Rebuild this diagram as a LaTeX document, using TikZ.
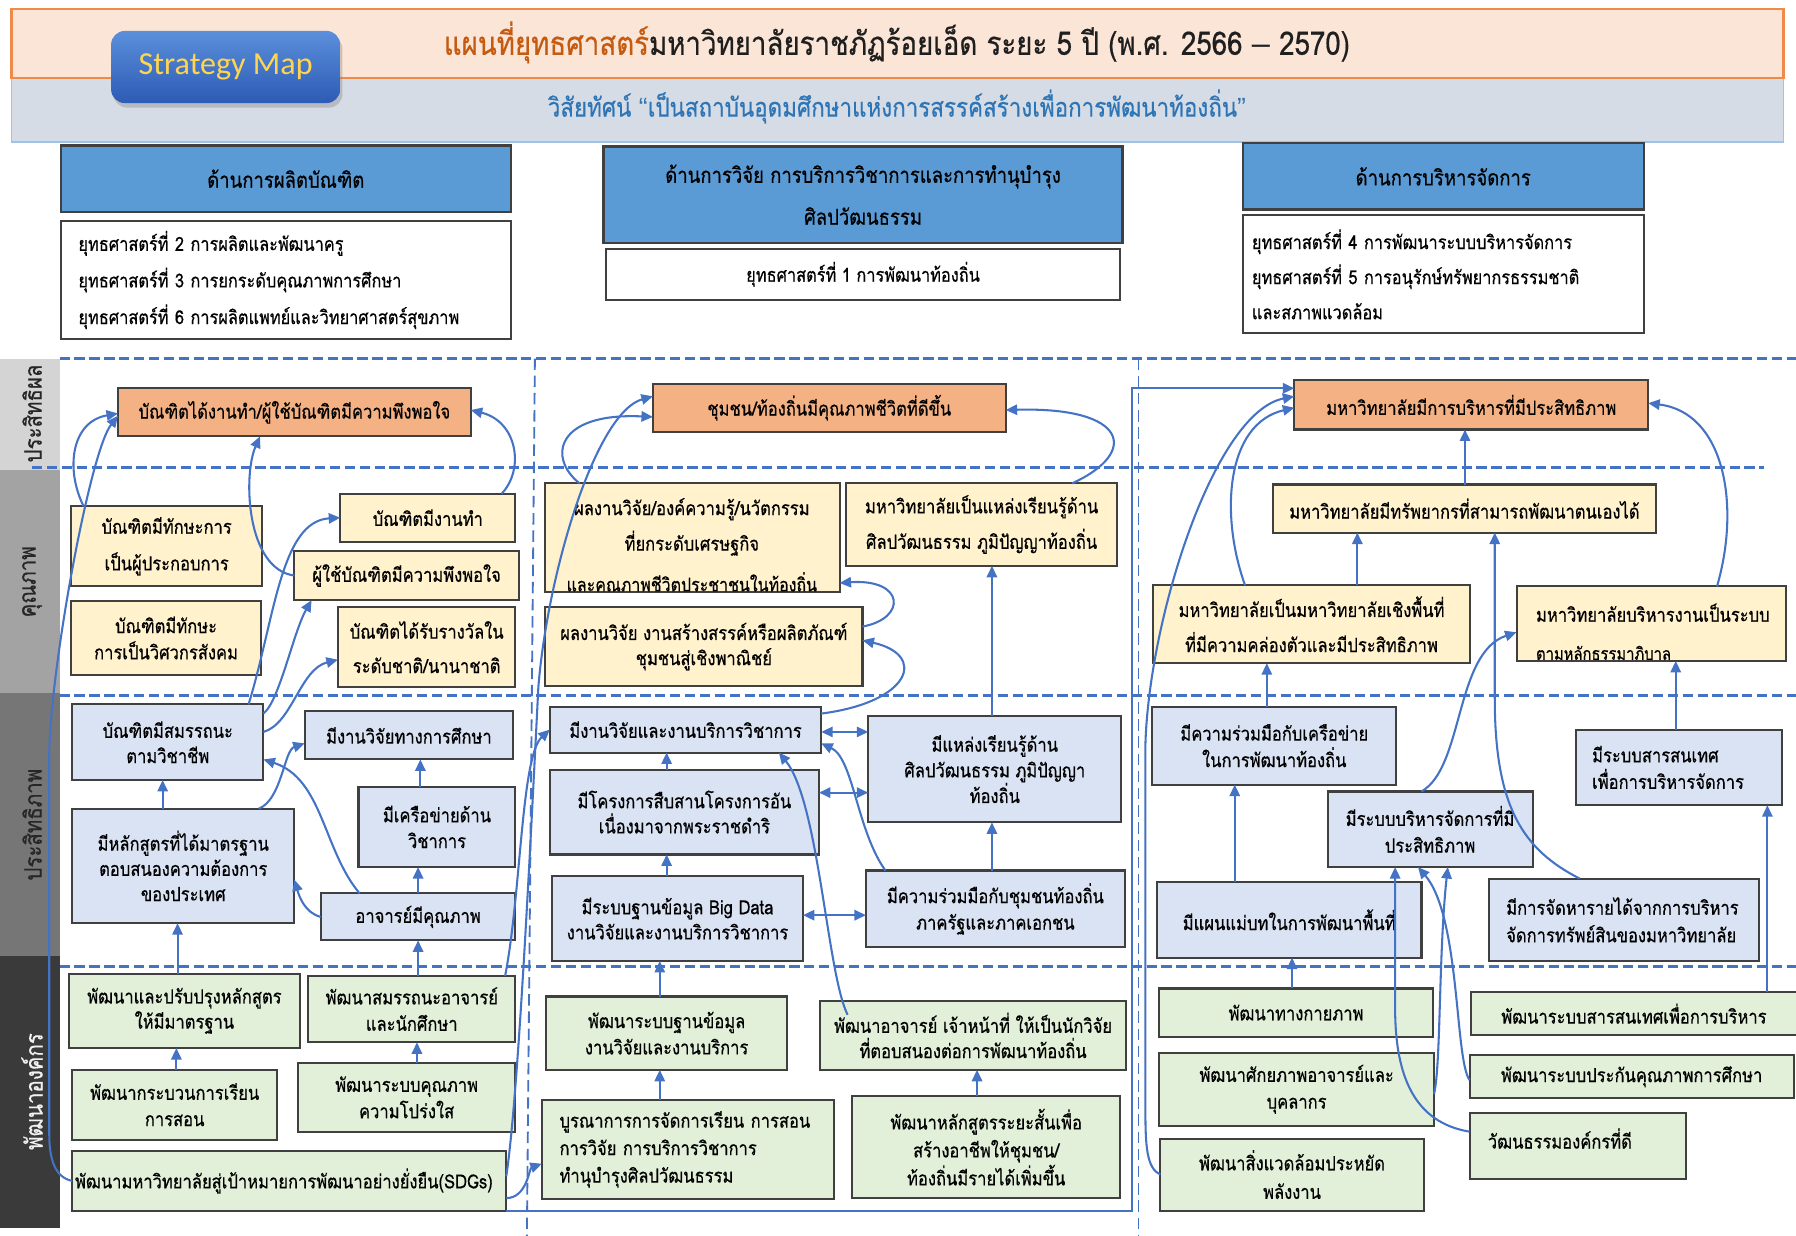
\documentclass[tikz,border=0pt]{standalone}
\usepackage{fontspec}
\usetikzlibrary{calc,arrows.meta,shadows}
\newfontfamily\thai[Script=Thai,FakeStretch=0.85,FakeBold=0.5]{Loma}
\newfontfamily\smfont{Carlito}
\newfontfamily\latf{Liberation Sans}
\newcommand\fs[2]{\fontsize{#1}{#2}\selectfont}
\definecolor{arrblue}{HTML}{4472C4}
\definecolor{dashblue}{HTML}{4472C4}
\definecolor{bdr}{HTML}{404040}
\definecolor{orgfill}{HTML}{F4B183}
\definecolor{yelfill}{HTML}{FFF2CC}
\definecolor{blufill}{HTML}{DAE3F3}
\definecolor{grnfill}{HTML}{E2F0D9}
\definecolor{hdrblue}{HTML}{5B9BD5}
\definecolor{ttlfill}{HTML}{FBE5D6}
\definecolor{ttlbdr}{HTML}{F08A4B}
\definecolor{visfill}{HTML}{D6DCE5}
\definecolor{visbdr}{HTML}{9DC3E6}
\definecolor{vistxt}{HTML}{2E75B6}
\definecolor{ttlor}{HTML}{C55A11}
\definecolor{smtop}{HTML}{5B8FDB}
\definecolor{smbot}{HTML}{2D5BB5}
\definecolor{smtxt}{HTML}{FFD54F}
\definecolor{bandA}{HTML}{D4D4D4}
\definecolor{bandB}{HTML}{A3A3A3}
\definecolor{bandC}{HTML}{767676}
\definecolor{bandD}{HTML}{3A3A3A}
\newcommand\mybox[7]{\node[#2, anchor=north west, minimum width={(#5-#3)*0.5pt}, minimum height={(#6-#4)*0.5pt}] (#1) at (#3,#4) {#7};}
\begin{document}
\begin{tikzpicture}[x=0.5pt,y=-0.5pt,
  every node/.style={inner sep=1pt, outer sep=0pt},
  box/.style={draw=bdr, line width=0.9pt, align=center, font=\thai\fs{8.5}{14}},
  obox/.style={box, fill=orgfill},
  ybox/.style={box, fill=yelfill},
  bbox/.style={box, fill=blufill},
  gbox/.style={box, fill=grnfill},
  wbox/.style={box, fill=white},
  hbox/.style={box, fill=hdrblue, line width=1pt, font=\thai\fs{9.5}{18}},
  arr/.style={draw=arrblue, line width=0.9pt, -{Triangle[length=5pt,width=4.5pt]}},
  darr/.style={draw=arrblue, line width=0.9pt, {Triangle[length=5pt,width=4.5pt]}-{Triangle[length=5pt,width=4.5pt]}},
  hdash/.style={draw=dashblue, line width=1.3pt, dash pattern=on 4.5pt off 2pt},
  vdash/.style={draw=dashblue, line width=0.8pt, dash pattern=on 5pt off 2.5pt},
  lbl/.style={rotate=90, font=\thai\fs{10.5}{12}, text=black!85},
]
\useasboundingbox (0,0) rectangle (1568,1079);
\fill[white] (0,0) rectangle (1568,1079);

% ---------- header ----------
\node[draw=visbdr, fill=visfill, line width=0.8pt, anchor=north west, minimum width=773.5pt, minimum height=28pt] (V) at (10,68) {};
\node[draw=ttlbdr, fill=ttlfill, line width=1pt, anchor=north west, minimum width=773.5pt, minimum height=30pt] (T) at (10,8) {};
\node[font=\thai\fs{14.2}{16}, text=black!88] (title) at (783,37) {\textcolor{ttlor}{แผนที่ยุทธศาสตร์}มหาวิทยาลัยราชภัฏร้อยเอ็ด ระยะ 5 ปี (พ.ศ. 2566 {\latf –} 2570)};
\node[font=\thai\fs{11.5}{13}, text=vistxt] (vision) at (783,93) {วิสัยทัศน์ {\latf “}เป็นสถาบันอุดมศึกษาแห่งการสรรค์สร้างเพื่อการพัฒนาท้องถิ่น{\latf ”}};
\node[rounded corners=6pt, top color=smtop, bottom color=smbot, drop shadow={opacity=0.35, shadow xshift=1pt, shadow yshift=-2pt}, minimum width=100pt, minimum height=31.5pt, font=\smfont\fs{14}{16}, text=smtxt] (SM) at (197,58.5) {Strategy Map};

\mybox{H1}{hbox}{53}{127}{446}{185}{ด้านการผลิตบัณฑิต}
\mybox{H2}{hbox,font=\thai\fs{9.5}{18.3}}{527}{128}{980}{212}{ด้านการวิจัย การบริการวิชาการและการทำนุบำรุง\\ศิลปวัฒนธรรม}
\mybox{H3}{hbox}{1085}{125}{1435}{183}{ด้านการบริหารจัดการ}
\mybox{S1}{wbox,font=\thai\fs{8.4}{16},align=left,text width=181pt}{53}{193}{446}{296}{ยุทธศาสตร์ที่ 2 การผลิตและพัฒนาครู\\ยุทธศาสตร์ที่ 3 การยกระดับคุณภาพการศึกษา\\ยุทธศาสตร์ที่ 6 การผลิตแพทย์และวิทยาศาสตร์สุขภาพ}
\mybox{S2}{wbox,font=\thai\fs{8.4}{10}}{529}{217}{978}{262}{ยุทธศาสตร์ที่ 1 การพัฒนาท้องถิ่น}
\mybox{S3}{wbox,font=\thai\fs{8.4}{15.3},align=left,text width=167pt}{1085}{188}{1435}{291}{ยุทธศาสตร์ที่ 4 การพัฒนาระบบบริหารจัดการ\\ยุทธศาสตร์ที่ 5 การอนุรักษ์ทรัพยากรธรรมชาติ\\และสภาพแวดล้อม}

% ---------- side bands ----------
\fill[bandA] (0,313) rectangle (52,410);
\fill[bandB] (0,410) rectangle (52,605);
\fill[bandC] (0,605) rectangle (52,835);
\fill[bandD] (0,835) rectangle (52,1072);
\node[lbl] (L1) at (28,361) {ประสิทธิผล};
\node[lbl] (L2) at (28,508) {คุณภาพ};
\node[lbl] (L3) at (28,720) {ประสิทธิภาพ};
\node[lbl, text=white!95!black] (L4) at (28,953) {พัฒนาองค์กร};

% ---------- dashed grid ----------
\draw[hdash] (52,313) -- (1568,313);
\draw[hdash] (28,408) -- (1540,408);
\draw[hdash] (52,607) -- (1568,607);
\draw[hdash] (52,844) -- (1568,844);
\draw[vdash] (467,313) -- (460,1079);
\draw[vdash] (994,313) -- (994,1079);

% ---------- row: outcome ----------
\mybox{A1}{obox}{103}{339}{411}{381}{บัณฑิตได้งานทำ/ผู้ใช้บัณฑิตมีความพึงพอใจ}
\mybox{B1}{obox}{570}{335}{878}{377}{ชุมชน/ท้องถิ่นมีคุณภาพชีวิตที่ดีขึ้น}
\mybox{C1}{obox}{1130}{332}{1439}{375}{มหาวิทยาลัยมีการบริหารที่มีประสิทธิภาพ}

% ---------- row: quality ----------
\mybox{A2a}{ybox,font=\thai\fs{8.5}{16}}{62}{442}{229}{512}{บัณฑิตมีทักษะการ\\เป็นผู้ประกอบการ}
\mybox{A2b}{ybox,font=\thai\fs{8.5}{11.5}}{62}{525}{228}{589}{บัณฑิตมีทักษะ\\การเป็นวิศวกรสังคม}
\mybox{A2c}{ybox}{297}{431}{450}{473}{บัณฑิตมีงานทำ}
\mybox{A2d}{ybox}{257}{481}{453}{524}{ผู้ใช้บัณฑิตมีความพึงพอใจ}
\mybox{A2e}{ybox,font=\thai\fs{8.5}{15}}{295}{530}{450}{600}{บัณฑิตได้รับรางวัลใน\\ระดับชาติ/นานาชาติ}

\mybox{B2a}{ybox}{476}{422}{733}{517}{}
\begin{scope}
\clip (477,423) rectangle (732,516);
\node[font=\thai\fs{8.5}{15.5}, align=center] (B2at) at (604,460) {ผลงานวิจัย/องค์ความรู้/นวัตกรรม\\ที่ยกระดับเศรษฐกิจ};
\node[font=\thai\fs{8.2}{9}] (B2atc) at (604,510) {และคุณภาพชีวิตประชาชนในท้องถิ่น};
\end{scope}
\mybox{B2b}{ybox,font=\thai\fs{8.5}{15.5}}{739}{422}{975}{494}{มหาวิทยาลัยเป็นแหล่งเรียนรู้ด้าน\\ศิลปวัฒนธรรม ภูมิปัญญาท้องถิ่น}
\mybox{B2c}{ybox,font=\thai\fs{8.5}{11}}{476}{530}{753}{599}{ผลงานวิจัย งานสร้างสรรค์หรือผลิตภัณฑ์\\ชุมชนสู่เชิงพาณิชย์}

\mybox{C2a}{ybox}{1111}{423}{1446}{465}{มหาวิทยาลัยมีทรัพยากรที่สามารถพัฒนาตนเองได้}
\mybox{C2b}{ybox,font=\thai\fs{8.5}{15.3}}{1007}{511}{1283}{579}{มหาวิทยาลัยเป็นมหาวิทยาลัยเชิงพื้นที่\\ที่มีความคล่องตัวและมีประสิทธิภาพ}
\mybox{C2c}{ybox}{1324}{512}{1559}{577}{}
\begin{scope}
\clip (1325,513) rectangle (1558,576);
\node[font=\thai\fs{8.5}{10}, anchor=west] (C2ct) at (1339,535) {มหาวิทยาลัยบริหารงานเป็นระบบ};
\node[font=\thai\fs{7.6}{8}, anchor=west] (C2ctb) at (1339,570) {ตามหลักธรรมาภิบาล};
\end{scope}

% ---------- row: efficiency ----------
\mybox{A3a}{bbox,font=\thai\fs{8.5}{11}}{63}{615}{230}{681}{บัณฑิตมีสมรรถนะ\\ตามวิชาชีพ}
\mybox{A3b}{bbox}{266}{621}{448}{663}{มีงานวิจัยทางการศึกษา}
\mybox{A3c}{bbox,font=\thai\fs{8.5}{11}}{63}{706}{257}{806}{มีหลักสูตรที่ได้มาตรฐาน\\ตอบสนองความต้องการ\\ของประเทศ}
\mybox{A3d}{bbox,font=\thai\fs{8.5}{11.3}}{313}{687}{450}{757}{มีเครือข่ายด้าน\\วิชาการ}
\mybox{A3e}{bbox}{280}{780}{450}{821}{อาจารย์มีคุณภาพ}

\mybox{B3a}{bbox}{480}{617}{717}{657}{มีงานวิจัยและงานบริการวิชาการ}
\mybox{B3b}{bbox,font=\thai\fs{8.5}{11}}{480}{672}{715}{746}{มีโครงการสืบสานโครงการอัน\\เนื่องมาจากพระราชดำริ}
\mybox{B3c}{bbox,font=\thai\fs{8.5}{11}}{482}{765}{701}{839}{มีระบบฐานข้อมูล Big Data\\งานวิจัยและงานบริการวิชาการ}
\mybox{B3d}{bbox,font=\thai\fs{8.5}{11.2}}{758}{625}{979}{718}{มีแหล่งเรียนรู้ด้าน\\ศิลปวัฒนธรรม ภูมิปัญญา\\ท้องถิ่น}
\mybox{B3e}{bbox,font=\thai\fs{8.5}{11.5}}{756}{760}{982}{827}{มีความร่วมมือกับชุมชนท้องถิ่น\\ภาครัฐและภาคเอกชน}

\mybox{C3a}{bbox,font=\thai\fs{8.5}{11.6}}{1006}{617}{1219}{685}{มีความร่วมมือกับเครือข่าย\\ในการพัฒนาท้องถิ่น}
\mybox{C3b}{bbox,font=\thai\fs{8.5}{11.6}}{1159}{691}{1338}{757}{มีระบบบริหารจัดการที่มี\\ประสิทธิภาพ}
\mybox{C3c}{bbox,font=\thai\fs{8.5}{11.6},align=left,text width=76pt}{1376}{637}{1556}{703}{มีระบบสารสนเทศ\\เพื่อการบริหารจัดการ}
\mybox{C3d}{bbox}{1010}{770}{1241}{836}{มีแผนแม่บทในการพัฒนาพื้นที่}
\mybox{C3e}{bbox,font=\thai\fs{8.5}{12},align=left,text width=103pt}{1300}{767}{1536}{839}{มีการจัดหารายได้จากการบริหาร\\จัดการทรัพย์สินของมหาวิทยาลัย}

% ---------- row: development ----------
\mybox{A4a}{gbox,font=\thai\fs{8.5}{11}}{60}{850}{262}{915}{พัฒนาและปรับปรุงหลักสูตร\\ให้มีมาตรฐาน}
\mybox{A4b}{gbox,font=\thai\fs{8.5}{11.5}}{269}{852}{450}{910}{พัฒนาสมรรถนะอาจารย์\\และนักศึกษา}
\mybox{A4c}{gbox,font=\thai\fs{8.5}{11.5}}{63}{934}{242}{995}{พัฒนากระบวนการเรียน\\การสอน}
\mybox{A4d}{gbox,font=\thai\fs{8.5}{11.5}}{260}{928}{450}{988}{พัฒนาระบบคุณภาพ\\ความโปร่งใส}
\mybox{A4e}{gbox,align=left,text width=187pt}{63}{1005}{442}{1057}{พัฒนามหาวิทยาลัยสู่เป้าหมายการพัฒนาอย่างยั่งยืน(SDGs)}

\mybox{B4a}{gbox,font=\thai\fs{8.5}{11.5}}{477}{870}{687}{934}{พัฒนาระบบฐานข้อมูล\\งานวิจัยและงานบริการ}
\mybox{B4b}{gbox,font=\thai\fs{8.5}{11}}{716}{874}{983}{934}{พัฒนาอาจารย์ เจ้าหน้าที่ ให้เป็นนักวิจัย\\ที่ตอบสนองต่อการพัฒนาท้องถิ่น}
\mybox{B4c}{gbox,font=\thai\fs{8.5}{12},align=left,text width=112pt}{473}{960}{728}{1047}{บูรณาการการจัดการเรียน การสอน\\การวิจัย การบริการวิชาการ\\ทำนุบำรุงศิลปวัฒนธรรม}
\mybox{B4d}{gbox,font=\thai\fs{8.5}{12.2}}{744}{957}{978}{1046}{พัฒนาหลักสูตรระยะสั้นเพื่อ\\สร้างอาชีพให้ชุมชน/\\ท้องถิ่นมีรายได้เพิ่มขึ้น}

\mybox{C4a}{gbox}{1012}{863}{1251}{905}{พัฒนาทางกายภาพ}
\mybox{C4b}{gbox,font=\thai\fs{8.5}{11.7}}{1012}{919}{1252}{983}{พัฒนาศักยภาพอาจารย์และ\\บุคลากร}
\mybox{C4c}{gbox,font=\thai\fs{8.5}{12.5}}{1013}{994}{1243}{1057}{พัฒนาสิ่งแวดล้อมประหยัด\\พลังงาน}
\mybox{C4d}{gbox}{1284}{866}{1569}{904}{พัฒนาระบบสารสนเทศเพื่อการบริหาร}
\mybox{C4e}{gbox}{1283}{921}{1566}{959}{พัฒนาระบบประกันคุณภาพการศึกษา}
\mybox{C4f}{gbox}{1283}{972}{1472}{1029}{}
\node[font=\thai\fs{8.5}{10}, anchor=west] (C4ft) at (1297,994) {วัฒนธรรมองค์กรที่ดี};

% ---------- connectors: column A ----------
\draw[arr] (A4e.west) .. controls (48,1028) and (43,1012) .. (43,990) -- (43,660) .. controls (43,590) and (78,395) .. ($(A1.north west)+(0,24)$);
\draw[arr] ($(A2a.north west)+(11,0)$) .. controls (57,410) and (62,368) .. ($(A1.north west)+(0,22)$);
\draw[arr] (A2d.west) .. controls (215,497) and (212,415) .. ($(A1.south west)+(124,0)$);
\draw[arr] ($(A2c.north east)+(-12,0)$) .. controls (458,410) and (452,368) .. ($(A1.east)+(0,-2)$);
\draw[arr] ($(A3a.north east)+(-13,0)$) .. controls (240,540) and (245,455) .. (A2c.west);
\draw[arr] ($(A3a.north east)+(0,8)$) .. controls (244,612) and (256,552) .. ($(A2d.south west)+(15,0)$);
\draw[arr] ($(A3a.north east)+(0,24)$) .. controls (255,632) and (262,584) .. ($(A2e.south west)+(0,-24)$);
\draw[arr] ($(A3c.north west)+(79,0)$) -- ($(A3a.south west)+(79,0)$);
\draw[arr] ($(A3c.north east)+(-31,0)$) .. controls (246,698) and (248,655) .. ($(A3b.north west)+(0,28)$);
\draw[arr] (A3e.west) .. controls (266,797) and (261,782) .. ($(A3c.north east)+(0,62)$);
\draw[arr] ($(A3e.north west)+(34,0)$) .. controls (282,742) and (282,680) .. ($(A3a.north east)+(0,48)$);
\draw[arr] ($(A3d.north west)+(54,0)$) -- ($(A3b.south west)+(101,0)$);
\draw[arr] ($(A3e.north west)+(85,0)$) -- ($(A3d.south west)+(52,0)$);
\draw[arr] ($(A4b.north west)+(96,0)$) -- ($(A3e.south west)+(85,0)$);
\draw[arr] ($(A4a.north west)+(95,0)$) -- ($(A3c.south west)+(92,0)$);
\draw[arr] ($(A4c.north west)+(91,0)$) -- ($(A4a.south west)+(94,0)$);
\draw[arr] ($(A4d.north west)+(104,0)$) -- ($(A4b.south west)+(95,0)$);
\draw[arr] ($(A4b.north east)+(-9,0)$) .. controls (455,780) and (455,660) .. ($(B3a.north west)+(0,20)$);
\draw[arr] ($(A4e.east)+(0,-4)$) .. controls (452,960) and (462,760) .. (470,600) .. controls (478,500) and (520,360) .. ($(B1.north west)+(0,11)$);
\draw[arr] ($(A4e.east)+(0,15)$) .. controls (460,1046) and (462,1020) .. ($(B4c.north west)+(0,56)$);
\draw[arr] (A4e.south east) -- (988,1057) |- ($(C1.north west)+(0,7)$);

% ---------- connectors: column B ----------
\draw[arr] ($(B2a.north west)+(30,0)$) .. controls (478,400) and (485,360) .. ($(B1.north west)+(0,29)$);
\draw[arr] ($(B2b.north east)+(-39,0)$) .. controls (995,395) and (985,355) .. ($(B1.north east)+(0,23)$);
\draw[arr] ($(B2c.north east)+(0,17)$) .. controls (792,540) and (790,505) .. ($(B2a.south east)+(0,-8)$);
\draw[arr] ($(B3a.north east)+(0,6)$) .. controls (795,613) and (810,572) .. ($(B2c.north east)+(0,29)$);
\draw[arr] ($(B3e.north west)+(110,0)$) -- ($(B3d.south west)+(108,0)$);
\draw[arr] ($(B3d.north west)+(108,0)$) -- ($(B2b.south west)+(127,0)$);
\draw[darr] ($(B3a.north east)+(0,22)$) -- ($(B3d.north west)+(0,14)$);
\draw[darr] ($(B3b.north east)+(0,20)$) -- ($(B3d.north west)+(0,67)$);
\draw[darr] ($(B3c.north east)+(0,34)$) -- ($(B3e.north west)+(0,39)$);
\draw[arr] ($(B3b.north west)+(102,0)$) -- ($(B3a.south west)+(102,0)$);
\draw[arr] ($(B3c.north west)+(100,0)$) -- ($(B3b.south west)+(102,0)$);
\draw[arr] ($(B4a.north west)+(99,0)$) -- ($(B3c.south west)+(94,0)$);
\draw[arr] ($(B4c.north west)+(103,0)$) -- ($(B4a.south west)+(99,0)$);
\draw[arr] ($(B4d.north west)+(109,0)$) -- ($(B4b.south west)+(137,0)$);
\draw[arr] ($(B3e.north west)+(17,0)$) .. controls (748,725) and (745,662) .. ($(B3a.north east)+(0,32)$);
\draw[arr] ($(B4b.north west)+(24,12)$) .. controls (722,850) and (715,700) .. ($(B3a.south west)+(200,0)$);

% ---------- connectors: column C ----------
\draw[arr] ($(C2a.north west)+(168,0)$) -- ($(C1.south west)+(149,0)$);
\draw[arr] ($(C2b.north west)+(178,0)$) -- ($(C2a.south west)+(74,0)$);
\draw[arr] ($(C3a.north west)+(100,0)$) -- ($(C2b.south west)+(99,0)$);
\draw[arr] ($(C3c.north west)+(87,0)$) -- ($(C2c.south west)+(139,0)$);
\draw[arr] ($(C2b.north west)+(80,0)$) .. controls (1065,450) and (1070,370) .. ($(C1.north west)+(0,24)$);
\draw[arr] ($(C2c.north east)+(-60,0)$) .. controls (1520,440) and (1505,360) .. ($(C1.north east)+(0,20)$);
\draw[arr] (C4c.west) .. controls (1001,1020) and (1000,1000) .. (1000,970) -- (1000,650) .. controls (1003,540) and (1060,360) .. ($(C1.north west)+(0,14)$);
\draw[arr] ($(C3d.north west)+(68,0)$) -- ($(C3a.south west)+(72,0)$);
\draw[arr] ($(C4a.north west)+(116,0)$) -- ($(C3d.south west)+(118,0)$);
\draw[arr] ($(C3b.north east)+(-97,0)$) .. controls (1278,670) and (1270,570) .. ($(C2c.north west)+(0,40)$);
\draw[arr] ($(C3e.north west)+(79,0)$) .. controls (1330,742) and (1305,705) .. (1305,610) -- ($(C2a.south west)+(194,0)$);
\draw[arr] ($(C4d.north west)+(259,0)$) -- ($(C3c.south west)+(167,0)$);
\draw[arr] ($(C4f.north west)+(0,16)$) .. controls (1235,980) and (1218,940) .. (1218,880) -- ($(C3b.south west)+(59,0)$);
\draw[arr] ($(C4e.north west)+(0,22)$) .. controls (1270,925) and (1275,800) .. ($(C3b.south west)+(79,0)$);
\draw[arr] ($(C4b.east)+(0,4)$) .. controls (1258,930) and (1256,830) .. ($(C3b.south west)+(105,0)$);
\end{tikzpicture}
\end{document}
